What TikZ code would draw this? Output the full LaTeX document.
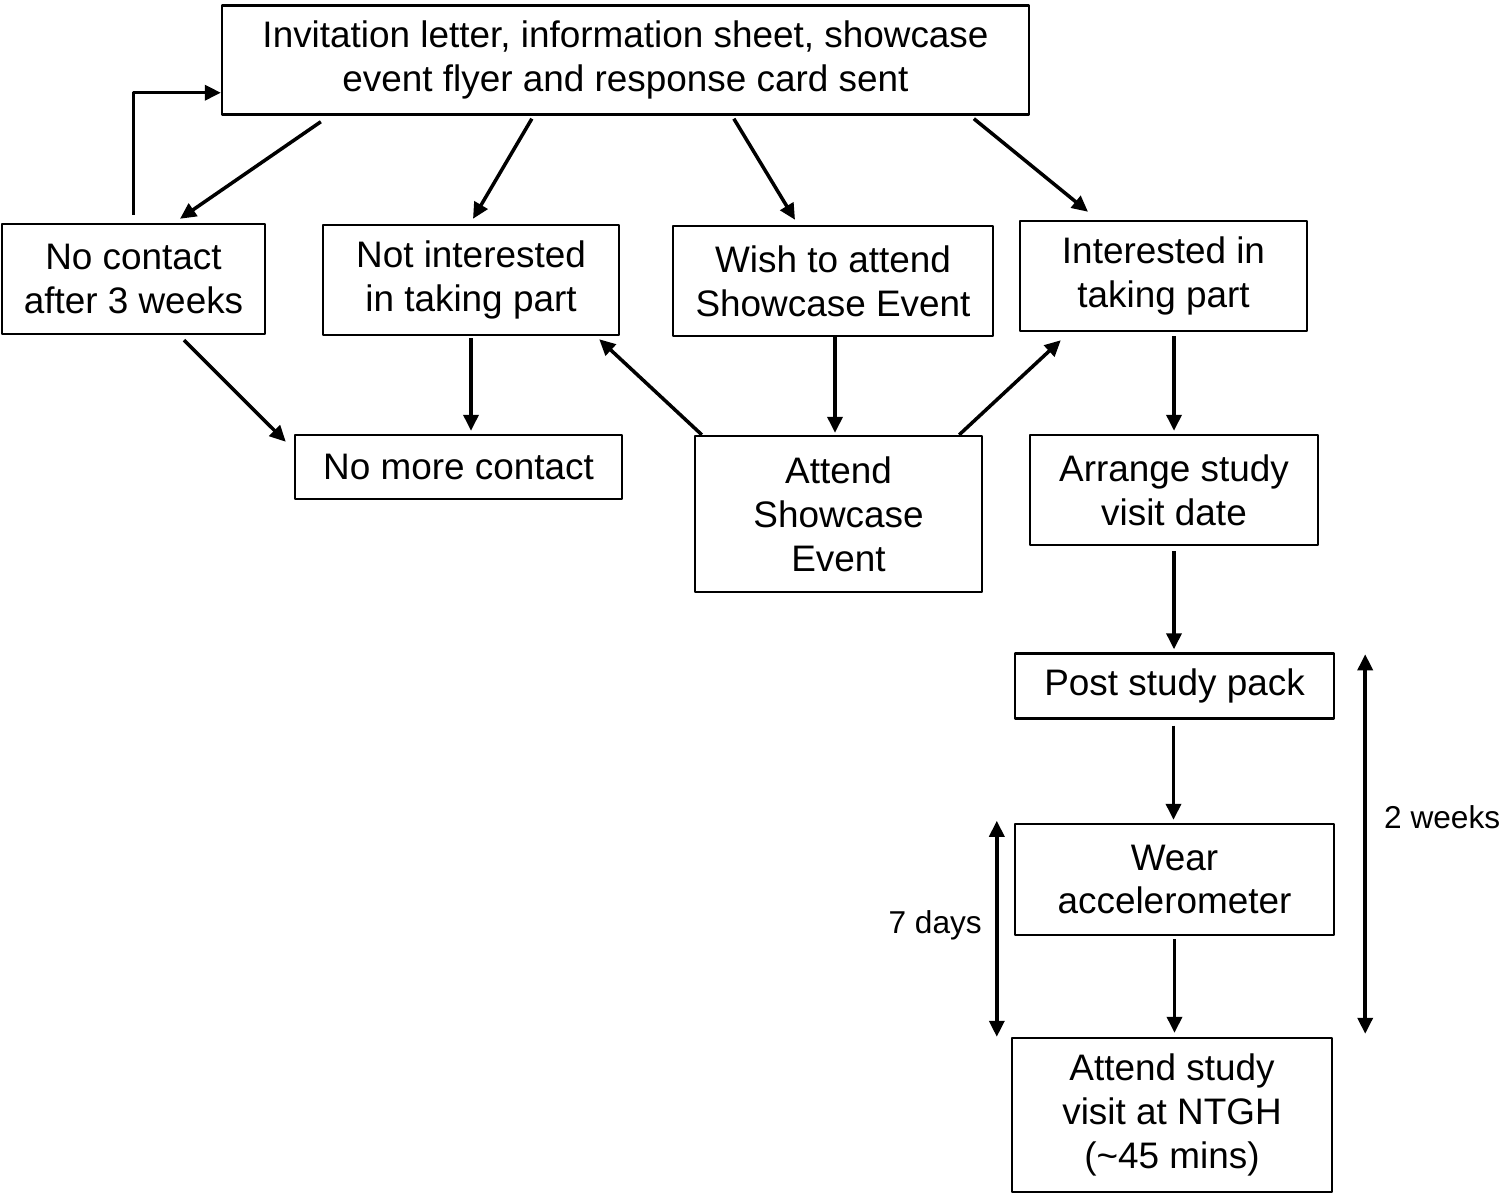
\documentclass[tikz,border=0pt]{standalone}
\usepackage{fontspec}
\setmainfont{Liberation Sans}
\usetikzlibrary{arrows.meta,calc}
\begin{document}
\begin{tikzpicture}[x=0.02cm, y=-0.02cm, >={Triangle[length=0.32cm,width=0.3cm]}, line join=round,
	box/.style={draw, line width=1.4pt, align=center, inner sep=2pt, font=\fontsize{21}{25}\selectfont},
	arr/.style={->, line width=2pt},
	dbl/.style={<->, line width=2pt},
	lbl/.style={font=\fontsize{18}{22}\selectfont}]
	\useasboundingbox (0,0) rectangle (1507,1194);
	% Kasten
	\node[box, minimum width=16.14cm, minimum height=2.18cm] (invite) at (625.5,60) {Invitation letter, information sheet, showcase\\event flyer and response card sent};
	\node[box, minimum width=5.26cm, minimum height=2.2cm] (nocon) at (133.5,279) {No contact\\after 3 weeks};
	\node[box, minimum width=5.92cm, minimum height=2.2cm] (notint) at (471,280) {Not interested\\in taking part};
	\node[box, minimum width=6.4cm, minimum height=2.2cm] (wish) at (833,281) {Wish to attend\\Showcase Event};
	\node[box, minimum width=5.74cm, minimum height=2.2cm] (interest) at (1163.5,276) {Interested in\\taking part};
	\node[box, minimum width=6.54cm, minimum height=1.28cm] (nomore) at (458.5,467) {No more contact};
	\node[box, minimum width=5.74cm, minimum height=3.12cm] (attend) at (838.5,514) {Attend\\Showcase\\Event};
	\node[box, minimum width=5.76cm, minimum height=2.2cm] (arrange) at (1174,490) {Arrange study\\visit date};
	\node[box, minimum width=6.38cm, minimum height=1.3cm] (post) at (1174.5,686) {Post study pack};
	\node[box, minimum width=6.38cm, minimum height=2.22cm] (wear) at (1174.5,879.5) {Wear\\accelerometer};
	\node[box, minimum width=6.4cm, minimum height=3.08cm] (visit) at (1172,1115) {Attend study\\visit at NTGH\\(\textasciitilde45 mins)};
	% Pfeile
	\draw[arr] ($(invite.south west)+(100,6)$) -- ($(nocon.north)+(46.5,-4)$);
	\draw[arr] ($(invite.south west)+(311,3)$) -- ($(notint.north)+(2,-5)$);
	\draw[arr] ($(invite.south west)+(513,3)$) -- ($(wish.north)+(-38,-5)$);
	\draw[arr] ($(invite.south west)+(753,3)$) -- ($(interest.north)+(-75.5,-8)$);
	\draw[arr] ($(nocon.north)+(0,-8)$) |- ($(invite.south west)+(0,-23)$);
	\draw[arr] ($(nocon.south)+(50.5,5)$) -- ($(nomore.north west)+(-8,8)$);
	\draw[arr] ($(notint.south)+(0,2)$) -- ($(notint.south |- nomore.north)+(0,-3)$);
	\draw[arr] ($(wish.south)+(2,0)$) -- ($(wish.south |- attend.north)+(2,-2)$);
	\draw[arr] ($(attend.north west)+(8,0)$) -- ($(notint.south east)+(-21,3)$);
	\draw[arr] ($(attend.north east)+(-24,0)$) -- ($(interest.south west)+(42,8)$);
	\draw[arr] ($(arrange.north |- interest.south)+(0,4)$) -- ($(arrange.north)+(0,-3)$);
	\draw[arr] ($(arrange.south)+(0,5)$) -- ($(post.north)+(-0.5,-3)$);
	\draw[arr] ($(post.south)+(-1,6)$) -- ($(wear.north)+(-1,-3)$);
	\draw[arr] ($(wear.south)+(0,3)$) -- ($(wear.south |- visit.north)+(0,-4)$);
	% Zeitraeume
	\coordinate (wk1) at ($(post.north east)+(30,2)$);
	\coordinate (wk2) at ($(post.north east |- visit.north)+(30,-3)$);
	\draw[dbl] (wk1) -- (wk2);
	\node[lbl, anchor=west] (weeks) at (1378,817) {2 weeks};
	\coordinate (dy1) at ($(wear.north west)+(-17,-2)$);
	\coordinate (dy2) at ($(wear.north west |- visit.north)+(-17,0)$);
	\draw[dbl] (dy1) -- (dy2);
	\node[lbl, anchor=east] (days) at (988,925) {7 days};
\end{tikzpicture}
\end{document}
